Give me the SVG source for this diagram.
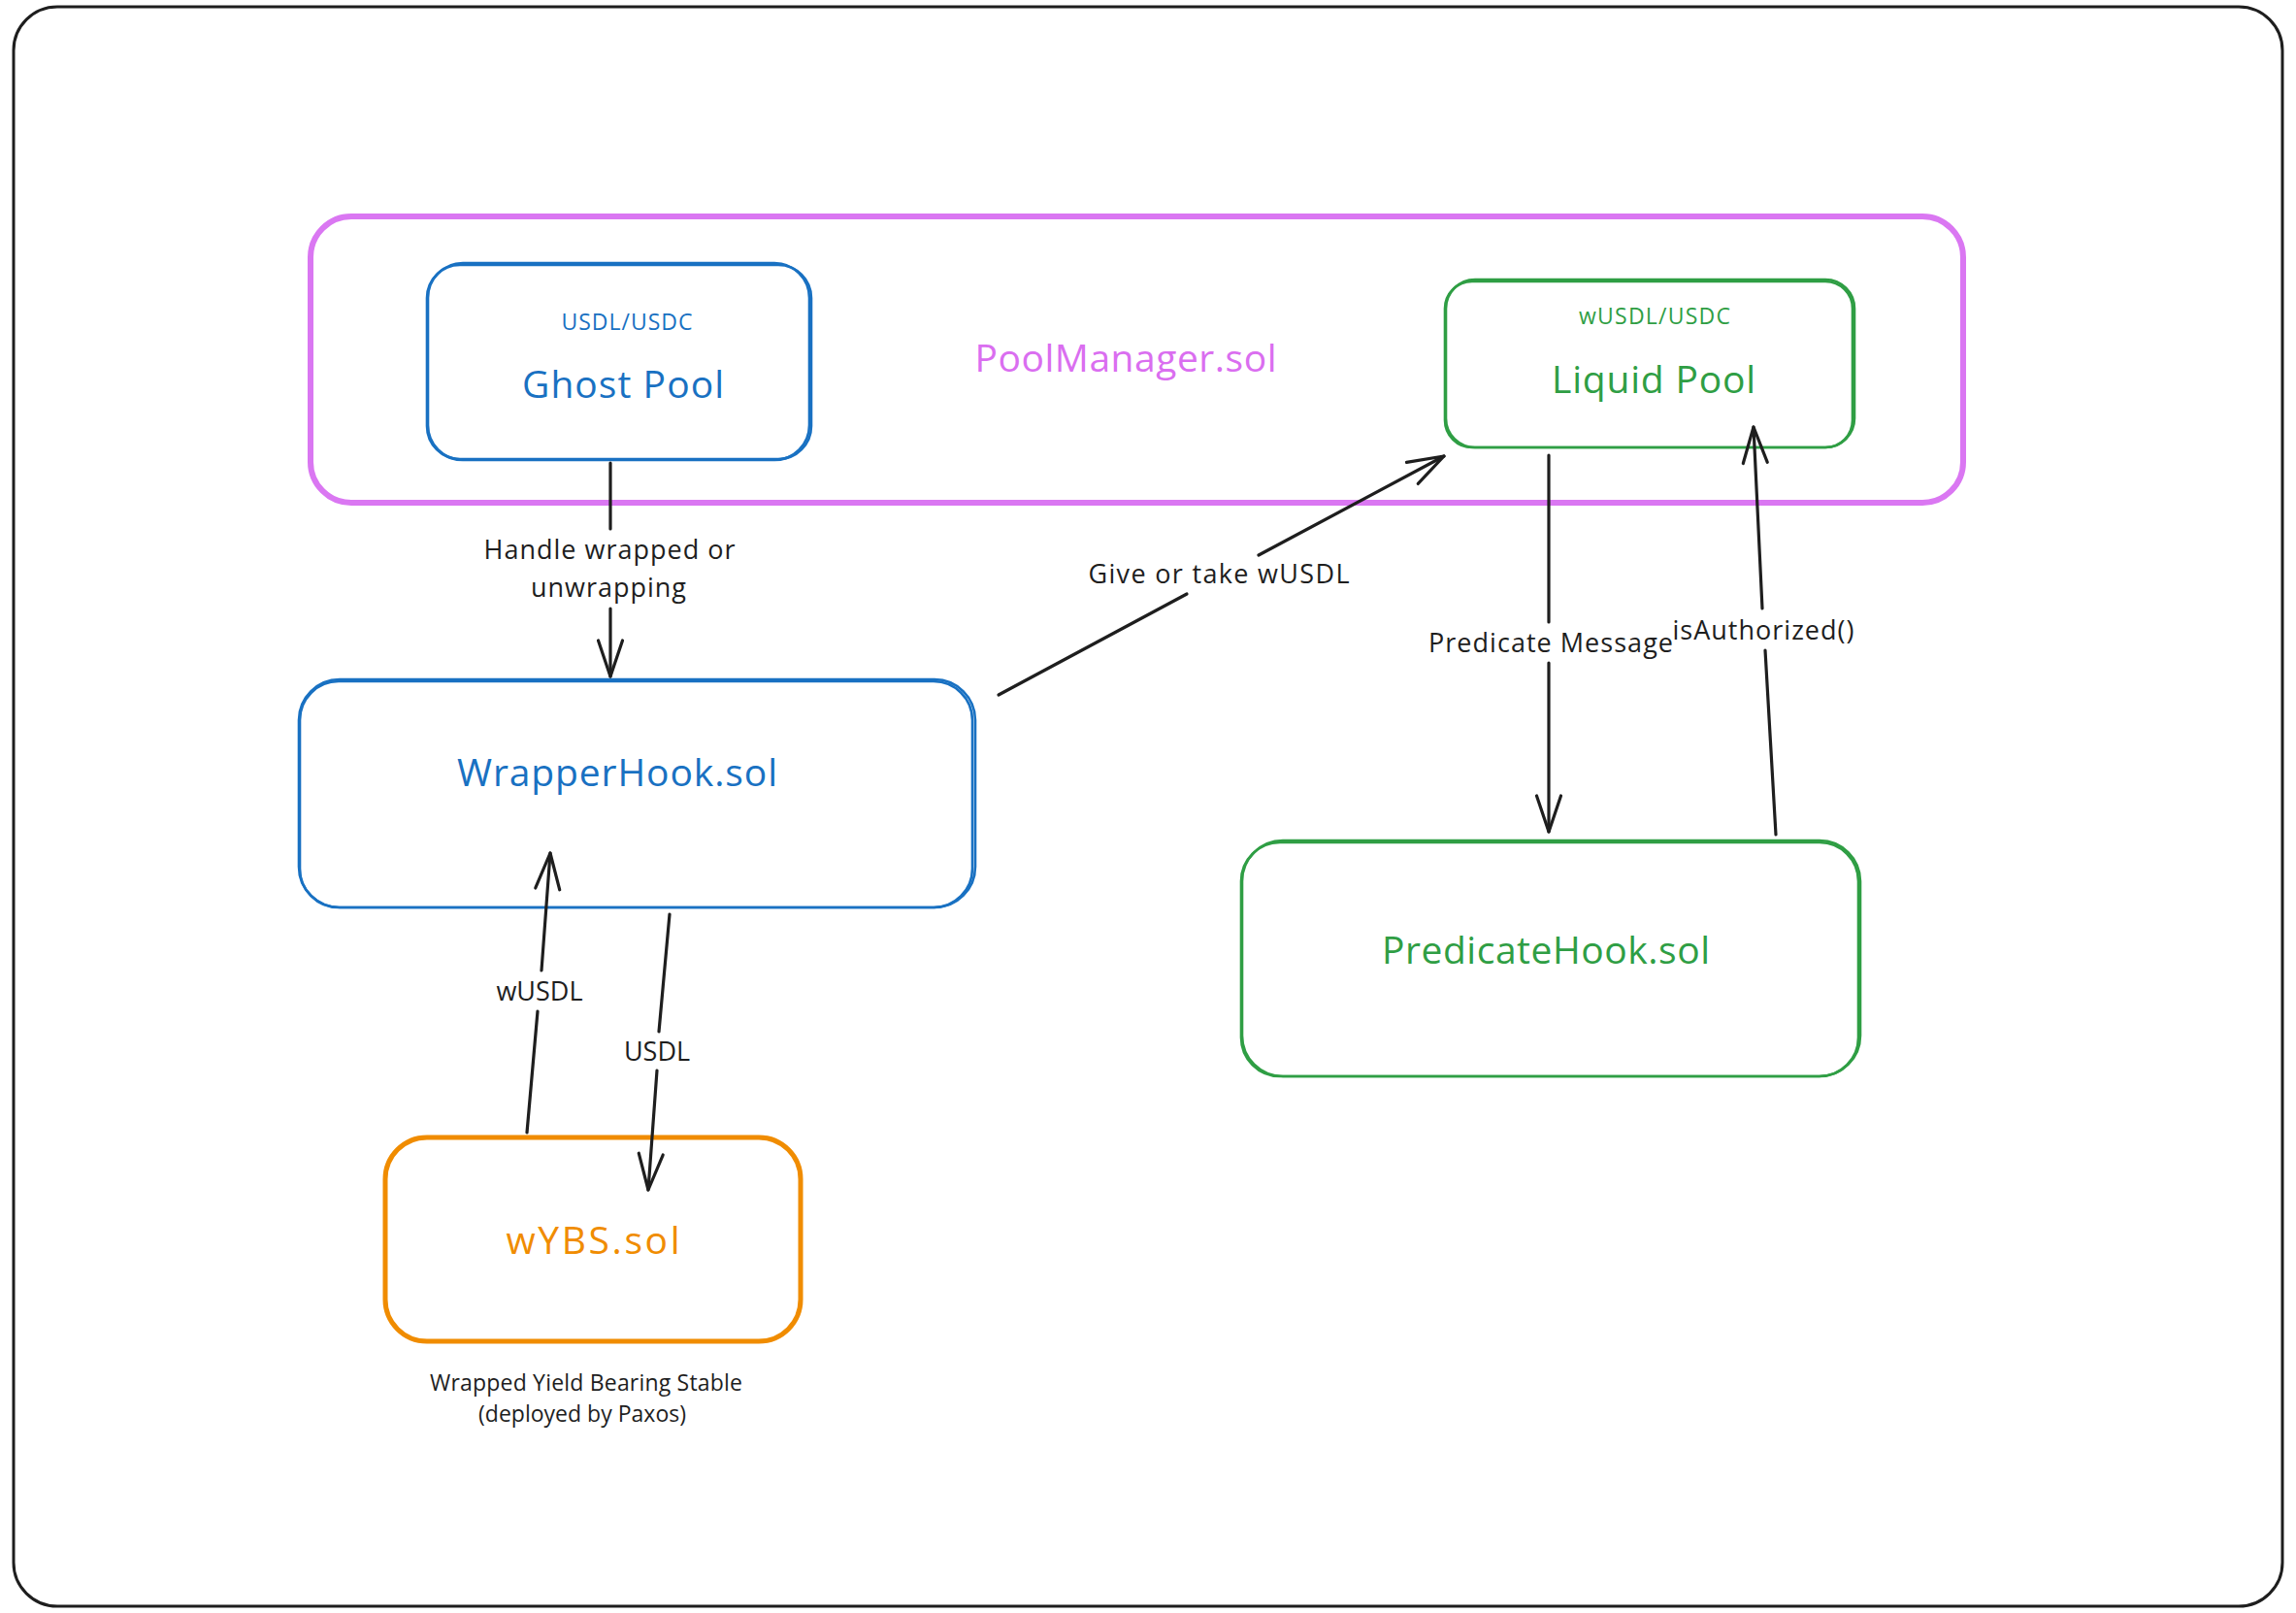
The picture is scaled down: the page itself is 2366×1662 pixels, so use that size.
<svg xmlns="http://www.w3.org/2000/svg" width="2366" height="1662" viewBox="0 0 2366 1662">
<style>
text{font-family:"Open Sans","Noto Sans","Liberation Sans",sans-serif;text-anchor:middle}
.blue{stroke:#1971c2;fill:none;stroke-width:2.6}
.green{stroke:#2f9e44;fill:none;stroke-width:2.6}
.tb{fill:#1971c2}
.tg{fill:#2f9e44}
.title{font-size:39px}
.sub{font-size:23px}
.lbl{font-size:27px;fill:#1e1e1e}
.cap{font-size:23px;fill:#1e1e1e}
.ln{stroke:#1e1e1e;stroke-width:3.2;fill:none;stroke-linecap:round}
</style>
<defs>
<marker id="arr" viewBox="-45 -20 50 40" refX="0" refY="0" markerWidth="50" markerHeight="40" markerUnits="userSpaceOnUse" orient="auto">
<path d="M-37,-12.5 L0,0 L-37,12.5" fill="none" stroke="#1e1e1e" stroke-width="3.2" stroke-linecap="round" stroke-linejoin="round"/>
</marker>
</defs>
<rect width="2366" height="1662" fill="#ffffff"/>
<g id="frame">
<rect x="14" y="7" width="2338" height="1648" rx="45" fill="#ffffff" stroke="#1e1e1e" stroke-width="3"/>
</g>
<g id="poolmanager">
<rect x="320" y="223" width="1703" height="295" rx="42" fill="none" stroke="#da77f2" stroke-width="6"/>
<text x="1160" y="383" font-size="39" fill="#da6ef0" textLength="311" lengthAdjust="spacing">PoolManager.sol</text>
</g>
<g id="ghostpool">
<rect class="blue" x="440" y="273" width="396" height="200" rx="34"/>
<rect class="blue" x="441" y="271" width="393" height="203" rx="36"/>
<text class="sub tb" x="646" y="340" textLength="135" lengthAdjust="spacing">USDL/USDC</text>
<text class="title tb" x="642" y="410" textLength="208" lengthAdjust="spacing">Ghost Pool</text>
</g>
<g id="liquidpool">
<rect class="green" x="1490" y="288" width="421" height="173" rx="30"/>
<rect class="green" x="1489" y="290" width="420" height="171" rx="28"/>
<text class="sub tg" x="1705" y="334" textLength="156" lengthAdjust="spacing">wUSDL/USDC</text>
<text class="title tg" x="1704" y="405" textLength="210" lengthAdjust="spacing">Liquid Pool</text>
</g>
<g id="wrapperhook">
<rect class="blue" x="309" y="702" width="693" height="233" rx="40"/>
<rect class="blue" x="308" y="700" width="697" height="235" rx="42"/>
<text class="title tb" x="636" y="810" textLength="330" lengthAdjust="spacing">WrapperHook.sol</text>
</g>
<g id="predicatehook">
<rect class="green" x="1280" y="866" width="637" height="243" rx="42"/>
<rect class="green" x="1279" y="868" width="636" height="241" rx="40"/>
<text class="title tg" x="1593" y="993" textLength="338" lengthAdjust="spacing">PredicateHook.sol</text>
</g>
<g id="wybs">
<rect x="397" y="1172" width="428" height="210" rx="43" fill="none" stroke="#f08c00" stroke-width="5"/>
<text x="611" y="1292" font-size="39" fill="#f08c00" textLength="179" lengthAdjust="spacing">wYBS.sol</text>
<text class="cap" x="604" y="1433" textLength="322" lengthAdjust="spacing">Wrapped Yield Bearing Stable</text>
<text class="cap" x="600" y="1465" textLength="214" lengthAdjust="spacing">(deployed by Paxos)</text>
</g>
<g id="connectors">
<line class="ln" x1="629" y1="477" x2="629" y2="545"/>
<line class="ln" x1="629" y1="627" x2="629" y2="697" marker-end="url(#arr)"/>
<text class="lbl" x="628" y="576" textLength="259" lengthAdjust="spacing">Handle wrapped or</text>
<text class="lbl" x="627" y="615" textLength="160" lengthAdjust="spacing">unwrapping</text>
<line class="ln" x1="1029" y1="716" x2="1223" y2="612"/>
<line class="ln" x1="1297" y1="572" x2="1488" y2="470" marker-end="url(#arr)"/>
<text class="lbl" x="1256" y="601" textLength="269" lengthAdjust="spacing">Give or take wUSDL</text>
<line class="ln" x1="1596" y1="469" x2="1596" y2="641"/>
<line class="ln" x1="1596" y1="683" x2="1596" y2="857" marker-end="url(#arr)"/>
<text class="lbl" x="1598" y="672" textLength="252" lengthAdjust="spacing">Predicate Message</text>
<line class="ln" x1="1830" y1="860" x2="1819" y2="670"/>
<line class="ln" x1="1816" y1="627" x2="1807" y2="440" marker-end="url(#arr)"/>
<text class="lbl" x="1817" y="659" textLength="187" lengthAdjust="spacing">isAuthorized()</text>
<line class="ln" x1="543" y1="1167" x2="554" y2="1042"/>
<line class="ln" x1="558" y1="1000" x2="567" y2="879" marker-end="url(#arr)"/>
<text class="lbl" x="556" y="1031">wUSDL</text>
<line class="ln" x1="690" y1="942" x2="679" y2="1063"/>
<line class="ln" x1="677" y1="1103" x2="668" y2="1226" marker-end="url(#arr)"/>
<text class="lbl" x="677" y="1093">USDL</text>
</g>
</svg>
